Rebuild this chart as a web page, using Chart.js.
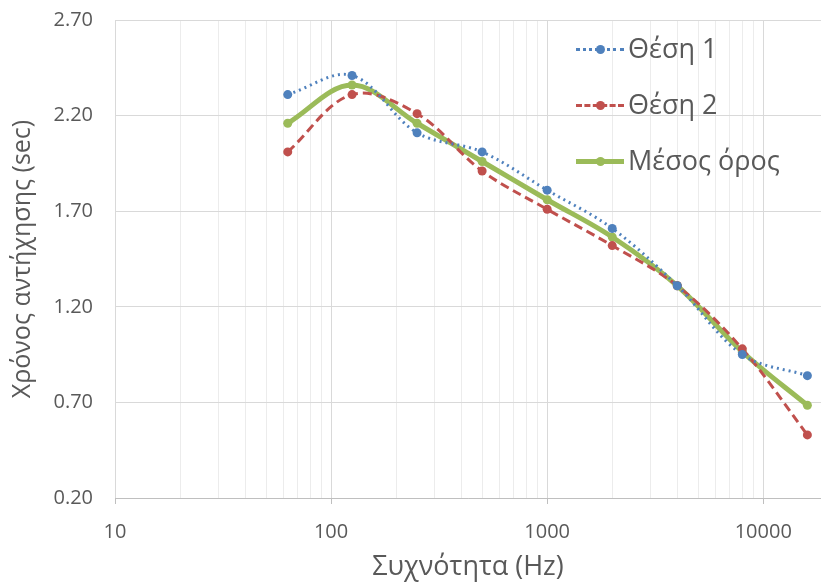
<!DOCTYPE html>
<html>
<head>
<meta charset="utf-8">
<script src="https://cdn.jsdelivr.net/npm/chart.js@4.4.1/dist/chart.umd.min.js"></script>
<style>
  html, body { margin: 0; padding: 0; background: #fff; }
  #wrap { position: relative; width: 821px; height: 584px; }
  #legend { position: absolute; left: 576px; top: 29px; font-family: "Open Sans", sans-serif; font-size: 27px; color: #595959; }
  #legend .row { height: 56px; display: flex; align-items: flex-start; }
  #legend .sw { position: relative; width: 48px; height: 38px; margin-right: 4px; }
  #legend .ln { position: absolute; left: 0; right: 0; top: 20px; }
  #legend .dot { position: absolute; left: 20px; top: 16px; width: 9px; height: 9px; border-radius: 50%; }
  #legend span { line-height: 38px; }
</style>
</head>
<body>
<div id="wrap">
  <canvas id="myChart" width="821" height="584"></canvas>
  <div id="legend"></div>
</div>
<script>
// frequencies (Hz)
var freqs = [63, 125, 250, 500, 1000, 2000, 4000, 8000, 16000];
// reverberation time per position (sec)
var thesi1 = [2.31, 2.41, 2.11, 2.01, 1.81, 1.61, 1.31, 0.95, 0.84];
var thesi2 = [2.01, 2.31, 2.21, 1.91, 1.71, 1.52, 1.31, 0.98, 0.53];
var mesos  = [2.16, 2.36, 2.16, 1.96, 1.76, 1.565, 1.31, 0.965, 0.685];

var yTicks = [0.20, 0.70, 1.20, 1.70, 2.20, 2.70];
var xTicks = [];
[10, 100, 1000].forEach(function(d){
  for (var k = 1; k <= 9; k++) xTicks.push(k * d);
});
xTicks.push(10000);

var labels = ['Θέση 1', 'Θέση 2', 'Μέσος όρος'];
var colors = ['#4F81BD', '#C0504D', '#9BBB59'];

function pts(arr){
  return freqs.map(function(f, i){ return {x: f, y: arr[i]}; });
}
function isMajor(v){
  var l = Math.log10(v);
  return Math.abs(l - Math.round(l)) < 1e-9;
}

var ctx = document.getElementById('myChart');
var myChart = new Chart(ctx, {
  type: 'line',
  data: {
    datasets: [{
      label: labels[0],
      data: pts(thesi1),
      borderColor: colors[0],
      backgroundColor: colors[0],
      borderWidth: 3,
      borderDash: [2, 4],
      pointRadius: 4.5,
      pointBorderWidth: 0,
      tension: 0.35
    }, {
      label: labels[1],
      data: pts(thesi2),
      borderColor: colors[1],
      backgroundColor: colors[1],
      borderWidth: 3,
      borderDash: [9, 5],
      pointRadius: 4.5,
      pointBorderWidth: 0,
      tension: 0.35
    }, {
      label: labels[2],
      data: pts(mesos),
      borderColor: colors[2],
      backgroundColor: colors[2],
      borderWidth: 5,
      pointRadius: 4.5,
      pointBorderWidth: 0,
      tension: 0.35
    }]
  },
  options: {
    responsive: false,
    animation: false,
    layout: { padding: 0, autoPadding: false },
    plugins: { legend: { display: false }, tooltip: { enabled: false } },
    scales: {
      x: {
        type: 'logarithmic',
        min: 10,
        max: 18500,
        afterBuildTicks: function(s){ s.ticks = xTicks.map(function(v){ return {value: v}; }); },
        afterFit: function(s){ s.height = 86; s.paddingLeft = 0; s.paddingRight = 0; },
        border: { color: '#bfbfbf', width: 1 },
        grid: {
          color: function(c){ return c.tick && isMajor(c.tick.value) ? '#d9d9d9' : '#ececec'; },
          tickColor: function(c){ return c.tick && isMajor(c.tick.value) ? '#bfbfbf' : 'rgba(0,0,0,0)'; },
          tickLength: 6
        },
        ticks: {
          autoSkip: false,
          maxRotation: 0,
          padding: 16,
          color: '#595959',
          font: { family: 'Open Sans', size: 20 },
          callback: function(v){ return isMajor(v) ? String(v) : ''; }
        },
        title: {
          display: true,
          text: 'Συχνότητα (Hz)',
          color: '#595959',
          font: { family: 'Open Sans', size: 27 },
          padding: { top: 0, bottom: 0 }
        }
      },
      y: {
        min: 0.2,
        max: 2.7,
        afterBuildTicks: function(s){ s.ticks = yTicks.map(function(v){ return {value: v}; }); },
        afterFit: function(s){ s.width = 115; s.paddingTop = 20; s.paddingBottom = 0; },
        border: { display: false },
        grid: { color: '#d9d9d9', drawTicks: false },
        ticks: {
          padding: 22,
          color: '#595959',
          font: { family: 'Open Sans', size: 20 },
          callback: function(v){ return Number(v).toFixed(2); }
        },
        title: {
          display: true,
          text: 'Χρόνος αντήχησης (sec)',
          color: '#595959',
          font: { family: 'Open Sans', size: 25 },
          padding: { top: 8, bottom: 0 }
        }
      }
    }
  }
});

// legend drawn as html, in the upper right of the plot
var lg = document.getElementById('legend');
myChart.data.datasets.forEach(function(ds){
  var style = ds.borderDash ? (ds.borderDash[0] < 4 ? 'dotted' : 'dashed') : 'solid';
  lg.innerHTML += '<div class="row"><div class="sw">' +
    '<div class="ln" style="border-top:' + ds.borderWidth + 'px ' + style + ' ' + ds.borderColor + ';margin-top:-' + Math.floor(ds.borderWidth/2) + 'px"></div>' +
    '<div class="dot" style="background:' + ds.borderColor + '"></div></div>' +
    '<span>' + ds.label + '</span></div>';
});
</script>
</body>
</html>
